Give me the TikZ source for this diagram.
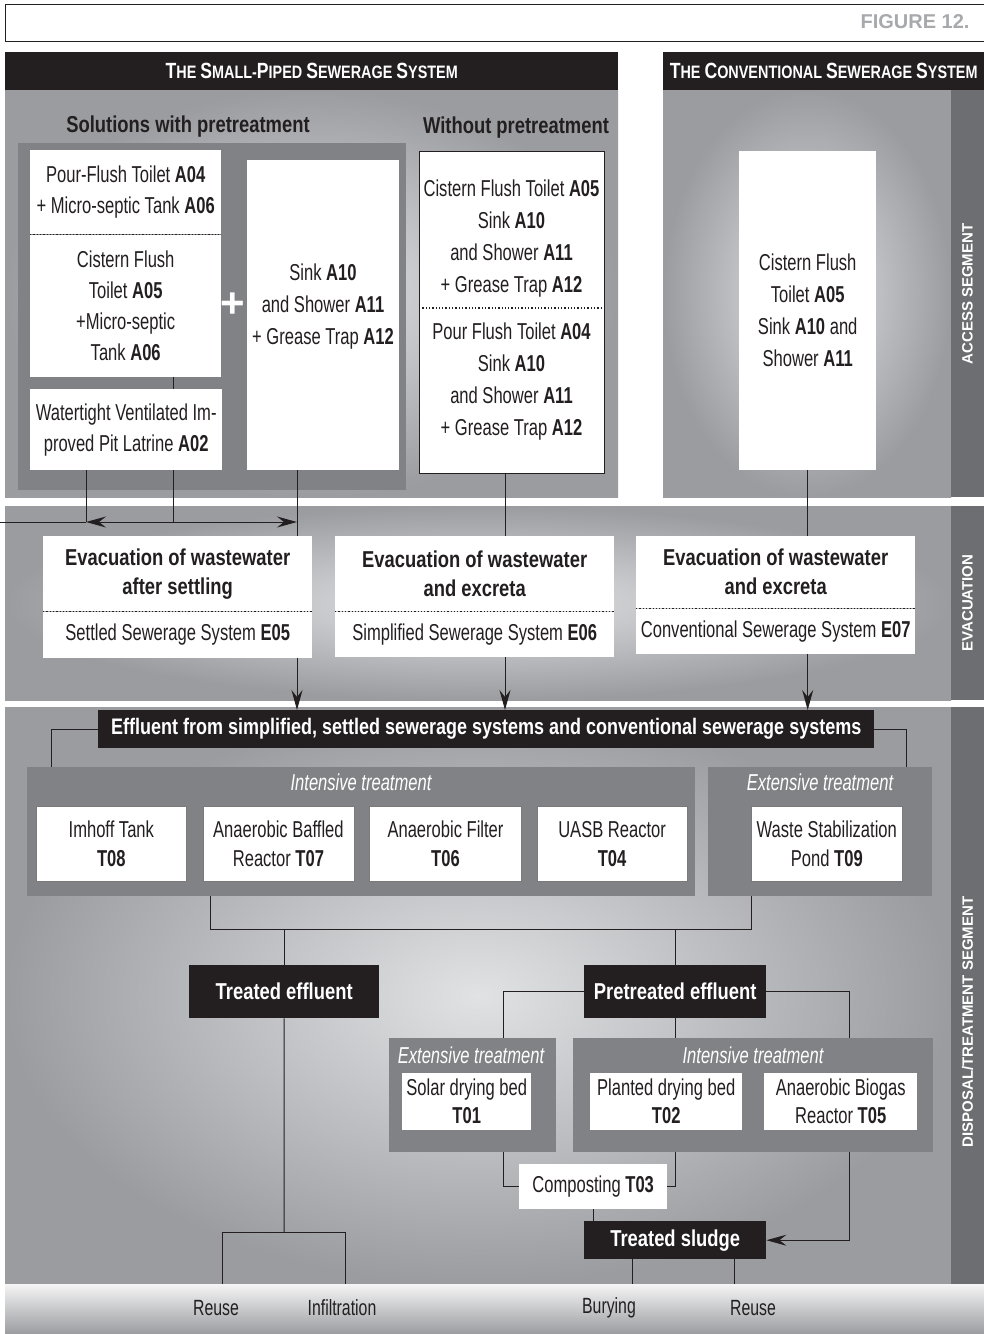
\documentclass[tikz,border=0pt]{standalone}
\usepackage{fontspec}
\setmainfont{Liberation Sans}[FakeStretch=0.72]
\newfontfamily\headfont{Liberation Sans}[FakeStretch=0.8]
\newfontfamily\stripfont{Liberation Sans}
\usepackage{tikz}
\usepackage{xcolor}
\usetikzlibrary{positioning}
\usetikzlibrary{arrows.meta}
\definecolor{ink}{HTML}{231F20}
\definecolor{panellight}{HTML}{E1E2E4}
\definecolor{paneldark}{HTML}{9A9CA0}
\definecolor{groupgray}{HTML}{808285}
\definecolor{stripgray}{HTML}{6D6E71}
\definecolor{figgray}{HTML}{A7A9AC}
\newcommand\capw[2]{{\fontsize{22}{22}\selectfont #1}#2}
\tikzstyle{panel}=[inner color=panellight, outer color=paneldark]
\tikzstyle{group}=[fill=groupgray, inner sep=0pt]
\tikzstyle{box}=[fill=white, inner sep=0pt, align=center, font=\fontsize{23}{31}\selectfont]
\tikzstyle{tbox}=[box, draw=ink!60, line width=0.6pt, font=\fontsize{23}{29}\selectfont]
\tikzstyle{evtitle}=[box, font=\headfont\bfseries\fontsize{23}{29}\selectfont]
\tikzstyle{dark}=[fill=ink, text=white, inner sep=0pt, align=center, font=\headfont\bfseries\fontsize{23}{28}\selectfont]
\tikzstyle{heading}=[font=\headfont\bfseries\fontsize{23}{28}\selectfont]
\tikzstyle{grouplabel}=[text=white, font=\itshape\fontsize{23}{28}\selectfont]
\tikzstyle{striplabel}=[text=white, rotate=90, font=\stripfont\bfseries\fontsize{15}{15}\selectfont]
\tikzstyle{outlet}=[font=\fontsize{22}{22}\selectfont]
\tikzstyle{pipe}=[draw=ink, line width=1pt]
\tikzstyle{link}=[pipe, -{Stealth[length=20pt, width=11pt, inset=7pt]}]
\tikzstyle{twoway}=[pipe, {Stealth[length=20pt, width=11pt, inset=7pt]}-{Stealth[length=20pt, width=11pt, inset=7pt]}]
\tikzstyle{dotline}=[draw=ink, line width=1.3pt, dash pattern=on 1.3pt off 2pt]

\begin{document}
\begin{tikzpicture}[x=1pt, y=-1pt, every node/.style={text=ink}]
  \fill[white] (0,0) rectangle (984,1334);
  \useasboundingbox (0,0) rectangle (984,1334);

  % title strip
  \draw[ink, line width=1pt] (5,4) rectangle (1000,41);
  \node[anchor=east, text=figgray, font=\stripfont\bfseries\fontsize{20}{20}\selectfont] (figlbl) at (973,22) {FIGURE 12.};

  % access segment
  \path[panel] (5,90) rectangle (618,497);
  \path[panel] (663,90) rectangle (951,497);
  \fill[stripgray] (951,90) rectangle (984,497);
  \node[striplabel] (acclbl) at (967.5,294) {ACCESS SEGMENT};
  \node[dark, minimum width=613pt, minimum height=38pt, anchor=north west, font=\headfont\bfseries\fontsize{18}{18}\selectfont] (headsmall) at (5,52) {\capw{T}{HE} \capw{S}{MALL}-\capw{P}{IPED} \capw{S}{EWERAGE} \capw{S}{YSTEM}};
  \node[dark, minimum width=321pt, minimum height=38pt, anchor=north west, font=\headfont\bfseries\fontsize{18}{18}\selectfont] (headconv) at (663,52) {\capw{T}{HE} \capw{C}{ONVENTIONAL} \capw{S}{EWERAGE} \capw{S}{YSTEM}};

  \node[heading] (withlbl) at (188,127) {Solutions with pretreatment};
  \node[heading] (withoutlbl) at (516,128) {Without pretreatment};
  \node[group, minimum width=388pt, minimum height=347pt, anchor=north west] (pregrp) at (18,143) {};
  \node[box, minimum width=191pt, minimum height=84pt, anchor=north west] (pour) at (30,150) {Pour-Flush Toilet \textbf{A04}\\+ Micro-septic Tank \textbf{A06}};
  \node[box, minimum width=191pt, minimum height=142pt, below=0pt of pour] (cistern) {Cistern Flush\\Toilet \textbf{A05}\\+Micro-septic\\Tank \textbf{A06}};
  \draw[dotline] (pour.south west) -- (pour.south east);
  \node[box, minimum width=192pt, minimum height=81pt, anchor=north west] (latrine) at (30,389) {Watertight Ventilated Im-\\proved Pit Latrine \textbf{A02}};
  \node[box, minimum width=152pt, minimum height=310pt, anchor=north west] (sink) at (247,160) {};
  \node[align=center, font=\fontsize{23}{32}\selectfont] (sinktxt) at (323,307) {Sink \textbf{A10}\\and Shower \textbf{A11}\\+ Grease Trap \textbf{A12}};
  \node[text=white, font=\stripfont\bfseries\fontsize{42}{42}\selectfont] (plus) at (233,305) {+};

  \node[box, draw=ink, line width=1.2pt, minimum width=185pt, minimum height=322pt, anchor=north west] (without) at (419,151) {};
  \node[align=center, font=\fontsize{23}{32}\selectfont] (withouttop) at (511.5,239) {Cistern Flush Toilet \textbf{A05}\\Sink \textbf{A10}\\and Shower \textbf{A11}\\+ Grease Trap \textbf{A12}};
  \node[align=center, font=\fontsize{23}{32}\selectfont] (withoutbot) at (511.5,382) {Pour Flush Toilet \textbf{A04}\\Sink \textbf{A10}\\and Shower \textbf{A11}\\+ Grease Trap \textbf{A12}};
  \coordinate (wsplit) at (0,308);
  \draw[dotline] (without.west |- wsplit) -- (without.east |- wsplit);

  \node[box, minimum width=137pt, minimum height=319pt, anchor=north west, font=\fontsize{23}{32}\selectfont] (conv) at (739,151) {Cistern Flush\\Toilet \textbf{A05}\\Sink \textbf{A10} and\\Shower \textbf{A11}};

  % evacuation
  \path[panel] (5,506) rectangle (951,700);
  \fill[stripgray] (951,506) rectangle (984,700);
  \node[striplabel] (evaclbl) at (967.5,603) {EVACUATION};
  \node[evtitle, minimum width=269pt, minimum height=75pt, anchor=north west] (e05t) at (43,536) {Evacuation of wastewater\\after settling};
  \node[box, minimum width=269pt, minimum height=46pt, below=0pt of e05t] (e05b) {Settled Sewerage System \textbf{E05}};
  \node[evtitle, minimum width=279pt, minimum height=75pt, anchor=north west] (e06t) at (335,536) {Evacuation of wastewater\\and excreta};
  \node[box, minimum width=279pt, minimum height=45pt, below=0pt of e06t] (e06b) {Simplified Sewerage System \textbf{E06}};
  \node[evtitle, minimum width=279pt, minimum height=72pt, anchor=north west] (e07t) at (636,536) {Evacuation of wastewater\\and excreta};
  \node[box, minimum width=279pt, minimum height=45pt, below=0pt of e07t] (e07b) {Conventional Sewerage System \textbf{E07}};
  \draw[dotline] (e05t.south west) -- (e05t.south east);
  \draw[dotline] (e06t.south west) -- (e06t.south east);
  \draw[dotline] (e07t.south west) -- (e07t.south east);

  \coordinate (edge) at (0,522);
  \coordinate (splitl) at (86,522);
  \coordinate (splitm) at (173,522);
  \coordinate (splitr) at (297,522);
  \coordinate (colmid) at (505,522);
  \draw[pipe] (cistern.south -| splitm) -- (latrine.north -| splitm);
  \draw[pipe] (latrine.south -| splitm) -- (splitm);
  \draw[pipe] (latrine.south -| splitl) -- (splitl);
  \draw[pipe] (edge) -- (splitl);
  \draw[twoway] (splitl) -- (splitr);
  \draw[pipe] (sink.south -| splitr) -- (e05t.north -| splitr);
  \draw[pipe] (without.south -| colmid) -- (e06t.north -| colmid);
  \draw[pipe] (conv.south) -- (e07t.north -| conv.south);

  % disposal / treatment
  \path[panel] (5,707) rectangle (951,1284);
  \fill[stripgray] (951,707) rectangle (984,1284);
  \node[striplabel] (displbl) at (967.5,1022) {DISPOSAL/TREATMENT SEGMENT};
  \node[dark, minimum width=776pt, minimum height=38pt, anchor=north west, font=\headfont\bfseries\fontsize{22.5}{22.5}\selectfont] (effl) at (98,710) {Effluent from simplified, settled sewerage systems and conventional sewerage systems};
  \draw[link] (e05b.south -| splitr) -- (effl.north -| splitr);
  \draw[link] (e06b.south -| colmid) -- (effl.north -| colmid);
  \draw[link] (e07b.south -| conv.south) -- (effl.north -| conv.south);

  \node[group, minimum width=668pt, minimum height=129pt, anchor=north west] (intgrp) at (27,767) {};
  \node[group, minimum width=224pt, minimum height=129pt, anchor=north west] (extgrp) at (708,767) {};
  \node[grouplabel] (intlbl) at (361,782) {Intensive treatment};
  \node[grouplabel] (extlbl) at (820,782) {Extensive treatment};
  \node[tbox, minimum width=150pt, minimum height=75pt, anchor=north west] (imhoff) at (36,806) {Imhoff Tank\\\textbf{T08}};
  \node[tbox, minimum width=151pt, minimum height=75pt, right=16pt of imhoff] (baffled) {Anaerobic Baffled\\Reactor \textbf{T07}};
  \node[tbox, minimum width=152pt, minimum height=75pt, right=15pt of baffled] (filter) {Anaerobic Filter\\\textbf{T06}};
  \node[tbox, minimum width=150pt, minimum height=75pt, right=15pt of filter] (uasb) {UASB Reactor\\\textbf{T04}};
  \node[tbox, minimum width=151pt, minimum height=75pt, anchor=north west] (pond) at (751,806) {Waste Stabilization\\Pond \textbf{T09}};
  \coordinate (fl) at (51,767);
  \coordinate (fr) at (906,767);
  \draw[pipe] (effl.west) -| (fl);
  \draw[pipe] (effl.east) -| (fr);

  \node[dark, minimum width=190pt, minimum height=53pt, anchor=north west] (treff) at (189,965) {Treated effluent};
  \node[dark, minimum width=182pt, minimum height=53pt, anchor=north west] (pretr) at (584,965) {Pretreated effluent};
  \coordinate (ml) at (210,929);
  \coordinate (mr) at (751,929);
  \draw[pipe] (intgrp.south -| ml) -- (ml) -- (mr) -- (extgrp.south -| mr);
  \draw[pipe] (treff.north) -- (treff.north |- ml);
  \draw[pipe] (pretr.north) -- (pretr.north |- ml);

  \node[group, minimum width=167pt, minimum height=114pt, anchor=north west] (sext) at (389,1038) {};
  \node[group, minimum width=360pt, minimum height=114pt, anchor=north west] (sint) at (573,1038) {};
  \node[grouplabel] (sextlbl) at (471,1055) {Extensive treatment};
  \node[grouplabel] (sintlbl) at (753,1055) {Intensive treatment};
  \node[box, minimum width=129pt, minimum height=57pt, anchor=north west, font=\fontsize{23}{28}\selectfont] (solar) at (402,1073) {Solar drying bed\\\textbf{T01}};
  \node[box, minimum width=152pt, minimum height=57pt, anchor=north west, font=\fontsize{23}{28}\selectfont] (planted) at (590,1073) {Planted drying bed\\\textbf{T02}};
  \node[box, minimum width=153pt, minimum height=57pt, anchor=north west, font=\fontsize{23}{28}\selectfont] (biogas) at (764,1073) {Anaerobic Biogas\\Reactor \textbf{T05}};
  \coordinate (sl) at (503,1038);
  \coordinate (sr) at (849,1038);
  \draw[pipe] (pretr.west) -| (sl);
  \draw[pipe] (pretr.east) -| (sr);
  \draw[pipe] (pretr.south) -- (sint.north -| pretr.south);

  \node[box, minimum width=148pt, minimum height=45pt, anchor=north west] (compost) at (519,1164) {Composting \textbf{T03}};
  \node[dark, minimum width=182pt, minimum height=38pt, anchor=north west] (sludge) at (584,1221) {Treated sludge};
  \draw[pipe] (sext.south -| sl) |- (compost.west);
  \draw[pipe] (sint.south -| pretr.south) |- (compost.east);
  \draw[pipe] (compost.south) -- (sludge.north -| compost.south);
  \draw[link] (sint.south -| sr) |- (sludge.east);

  % outlets
  \path[top color=white!96!black, bottom color=paneldark] (5,1284) rectangle (984,1334);
  \node[outlet] (reuseA) at (216,1308) {Reuse};
  \node[outlet] (infil) at (342,1308) {Infiltration};
  \node[outlet] (bury) at (609,1308) {Burying};
  \node[outlet] (reuseB) at (753,1308) {Reuse};
  \coordinate (tsplit) at (284,1232);
  \coordinate (tl) at (222,1284);
  \coordinate (tr) at (345,1284);
  \coordinate (bl) at (632,1284);
  \coordinate (br) at (734,1284);
  \draw[pipe] (treff.south) -- (tsplit);
  \draw[pipe] (tl) |- (tsplit) -| (tr);
  \draw[pipe] (sludge.south -| bl) -- (bl);
  \draw[pipe] (sludge.south -| br) -- (br);
\end{tikzpicture}
\end{document}
